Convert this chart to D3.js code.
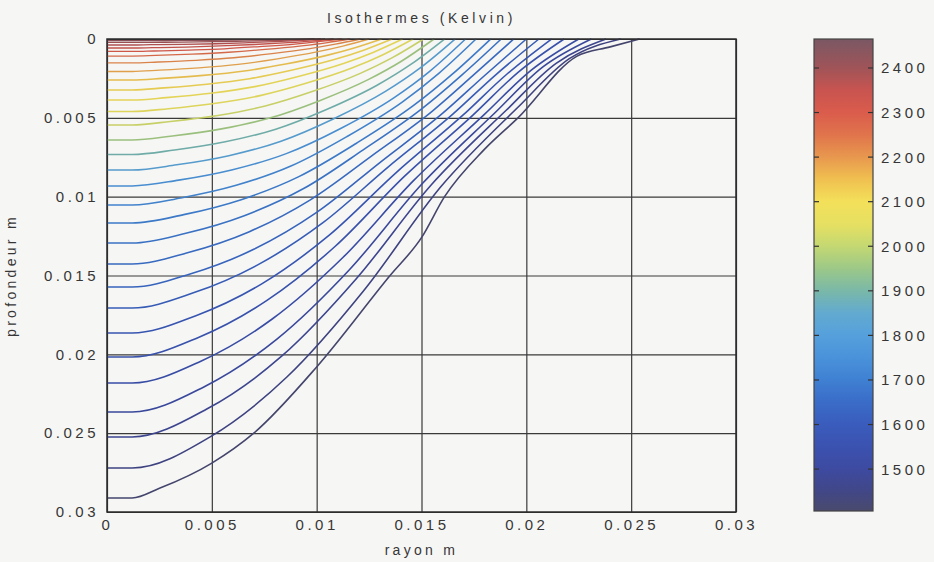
<!DOCTYPE html>
<html>
<head>
<meta charset="utf-8">
<script src="https://cdn.jsdelivr.net/npm/d3@7"></script>
<style>
  body { margin: 0; background: #f6f6f5; }
  text { font-family: "Liberation Sans", Arial, sans-serif; fill: #363636; }
</style>
</head>
<body>
<svg id="chart" width="934" height="562"></svg>
<script>
// axis ticks
const rTicks = [0, 0.005, 0.01, 0.015, 0.02, 0.025, 0.03];
const zTicks = [0, 0.005, 0.01, 0.015, 0.02, 0.025, 0.03];
const cbTicks = [1500, 1600, 1700, 1800, 1900, 2000, 2100, 2200, 2300, 2400];

const cbValues = [1406, 1450, 1500, 1550, 1600, 1650, 1700, 1750, 1800, 1850, 1900, 1950, 2000, 2050, 2100, 2150, 2200, 2250, 2300, 2350, 2400, 2465];
const cbColors = ["#4a4a6c", "#414787", "#3d4aa0", "#3b52b0", "#3a5cbc", "#3a6cc8", "#3f80d2", "#4a92da", "#55a0dc", "#62aad0",
                  "#7ab8a8", "#9cc888", "#c4d872", "#e6e062", "#f3e05a", "#f0c050", "#e8984e", "#e0744c", "#da5c4c", "#c85450",
                  "#a05458", "#7a5864"];

// isotherm levels, shallowest first
const levels = [2430, 2400, 2370, 2340, 2300, 2260, 2220, 2180, 2140, 2115, 2090, 2060, 2020, 1960, 1890,
                1820, 1760, 1725, 1700, 1680, 1660, 1640, 1615, 1590, 1565, 1540, 1510, 1480, 1450, 1415];

// each isotherm as [rayon, profondeur] points (m)
const isotherms = [
  [[0,0.0001],[0.0012,0.0001],[0.00198,0.0001],[0.00347,0.00009],[0.00495,0.00008],[0.00644,0.00006],[0.00792,0.00004],[0.00891,0.00002],[0.0099,0]],
  [[0,0.00022],[0.0012,0.00022],[0.00204,0.00021],[0.00357,0.0002],[0.0051,0.00017],[0.00663,0.00013],[0.00816,0.00009],[0.00918,0.00005],[0.0102,0]],
  [[0,0.00038],[0.0012,0.00038],[0.00208,0.00036],[0.00364,0.00034],[0.0052,0.0003],[0.00676,0.00023],[0.00832,0.00015],[0.00936,0.00008],[0.0104,0]],
  [[0,0.00057],[0.0012,0.00057],[0.00216,0.00055],[0.00378,0.00051],[0.0054,0.00044],[0.00702,0.00035],[0.00864,0.00023],[0.00972,0.00013],[0.0108,0]],
  [[0,0.00079],[0.0012,0.00079],[0.00224,0.00076],[0.00392,0.0007],[0.0056,0.00062],[0.00728,0.00048],[0.00896,0.00032],[0.01008,0.00017],[0.0112,0]],
  [[0,0.00108],[0.0012,0.00108],[0.00232,0.00104],[0.00406,0.00096],[0.0058,0.00084],[0.00754,0.00066],[0.00928,0.00043],[0.01044,0.00024],[0.0116,0]],
  [[0,0.00152],[0.0012,0.00152],[0.00242,0.00146],[0.00424,0.00135],[0.00605,0.00119],[0.00787,0.00093],[0.00968,0.00061],[0.01089,0.00033],[0.0121,0]],
  [[0,0.00206],[0.0012,0.00206],[0.0025,0.00198],[0.00438,0.00183],[0.00625,0.00161],[0.00813,0.00126],[0.01,0.00082],[0.01125,0.00045],[0.0125,0]],
  [[0,0.0026],[0.0012,0.0026],[0.00262,0.0025],[0.00459,0.00231],[0.00655,0.00203],[0.00852,0.00159],[0.01048,0.00104],[0.01179,0.00057],[0.0131,0]],
  [[0,0.00323],[0.0012,0.00323],[0.00272,0.0031],[0.00476,0.00287],[0.0068,0.00252],[0.00884,0.00197],[0.01088,0.00129],[0.01224,0.00071],[0.0136,0]],
  [[0,0.00387],[0.0012,0.00387],[0.00282,0.00372],[0.00494,0.00344],[0.00705,0.00302],[0.00917,0.00236],[0.01128,0.00155],[0.01269,0.00085],[0.0141,0]],
  [[0,0.0046],[0.0012,0.0046],[0.00292,0.00442],[0.00511,0.00409],[0.0073,0.00359],[0.00949,0.00281],[0.01168,0.00184],[0.01314,0.00101],[0.0146,0]],
  [[0,0.00545],[0.0012,0.00545],[0.00302,0.00523],[0.00529,0.00485],[0.00755,0.00425],[0.00982,0.00332],[0.01208,0.00218],[0.01359,0.0012],[0.0151,0]],
  [[0,0.00641],[0.0012,0.00641],[0.00312,0.00615],[0.00546,0.0057],[0.0078,0.005],[0.01014,0.00391],[0.01248,0.00256],[0.01404,0.00141],[0.0156,0]],
  [[0,0.00733],[0.0012,0.00733],[0.00322,0.00704],[0.00564,0.00652],[0.00805,0.00572],[0.01047,0.00447],[0.01288,0.00293],[0.01449,0.00161],[0.0161,0]],
  [[0,0.00831],[0.0012,0.00831],[0.00332,0.00798],[0.00581,0.0074],[0.0083,0.00648],[0.01079,0.00507],[0.01328,0.00332],[0.01494,0.00183],[0.0166,0]],
  [[0,0.00932],[0.0012,0.00932],[0.00342,0.00895],[0.00599,0.00829],[0.00855,0.00727],[0.01112,0.00569],[0.01368,0.00373],[0.01539,0.00205],[0.0171,0]],
  [[0,0.01053],[0.0012,0.01053],[0.00352,0.01008],[0.00616,0.00928],[0.0088,0.00804],[0.01144,0.00619],[0.01408,0.004],[0.01584,0.00216],[0.0176,0]],
  [[0,0.01167],[0.0012,0.01167],[0.00366,0.01114],[0.0064,0.01019],[0.00915,0.00873],[0.0119,0.00661],[0.01464,0.0042],[0.01647,0.00223],[0.0183,0]],
  [[0,0.01294],[0.0012,0.01294],[0.00376,0.01232],[0.00658,0.01119],[0.0094,0.00947],[0.01222,0.00703],[0.01504,0.0044],[0.01692,0.00229],[0.0188,0]],
  [[0,0.01427],[0.0012,0.01427],[0.00388,0.01354],[0.00679,0.01222],[0.0097,0.0102],[0.01261,0.00743],[0.01552,0.00457],[0.01746,0.00231],[0.0194,0]],
  [[0,0.01573],[0.0012,0.01573],[0.004,0.01489],[0.007,0.01334],[0.01,0.011],[0.013,0.00785],[0.016,0.00472],[0.018,0.00233],[0.02,0]],
  [[0,0.01706],[0.0012,0.01706],[0.00412,0.0161],[0.00721,0.01431],[0.0103,0.01165],[0.01339,0.00814],[0.01648,0.00478],[0.01854,0.00227],[0.0206,0]],
  [[0,0.01865],[0.0012,0.01865],[0.00424,0.01755],[0.00742,0.0155],[0.0106,0.01244],[0.01378,0.00849],[0.01696,0.00485],[0.01908,0.00222],[0.0212,0]],
  [[0,0.02017],[0.0012,0.02017],[0.00436,0.01893],[0.00763,0.01658],[0.0109,0.01313],[0.01417,0.00873],[0.01744,0.00484],[0.01962,0.0021],[0.0218,0]],
  [[0,0.02182],[0.0012,0.02182],[0.0045,0.02042],[0.00788,0.01776],[0.01125,0.01386],[0.01463,0.00897],[0.018,0.00478],[0.02025,0.00196],[0.0225,0]],
  [[0,0.02366],[0.0012,0.02366],[0.00462,0.02207],[0.00809,0.01905],[0.01155,0.01465],[0.01502,0.0092],[0.01848,0.00471],[0.02079,0.00177],[0.0231,0]],
  [[0,0.02524],[0.0012,0.02524],[0.00476,0.02347],[0.00833,0.02012],[0.0119,0.01519],[0.01547,0.00924],[0.01904,0.00452],[0.02142,0.00154],[0.0238,0]],
  [[0,0.02721],[0.0012,0.02721],[0.0049,0.02525],[0.00858,0.02144],[0.01225,0.01595],[0.01593,0.00936],[0.0196,0.00433],[0.02205,0.00125],[0.0245,0]],
  [[0,0.02911],[0.0012,0.02911],[0.0025,0.0285],[0.005,0.0269],[0.007,0.025],[0.01,0.0208],[0.0135,0.015],[0.015,0.0126],[0.0161,0.01],[0.018,0.007],[0.0196,0.005],[0.0224,0.0011],[0.024,0.0005],[0.0254,0]]
];

const plot = {left: 107, top: 39, width: 629, height: 473};
const bar = {left: 814, top: 39, width: 59, height: 472};

const svg = d3.select("#chart");

let x = d3.scaleLinear().domain([0, 0.03]).range([0, plot.width]);
let y = d3.scaleLinear().domain([0, 0.03]).range([0, plot.height]);
let colour = d3.scaleLinear().domain(cbValues).range(cbColors);

let g = svg.append("g")
    .attr("transform", `translate(${plot.left},${plot.top})`);

// grid + tick labels
let xAxis = g.append("g")
    .attr("transform", `translate(0,${plot.height})`)
    .call(d3.axisBottom(x).tickValues(rTicks).tickSize(-plot.height).tickPadding(7).tickFormat(d => String(d)));
let yAxis = g.append("g")
    .call(d3.axisLeft(y).tickValues(zTicks).tickSize(-plot.width).tickPadding(8).tickFormat(d => String(d)));

[xAxis, yAxis].forEach(a => {
    a.select(".domain").remove();
    a.selectAll("line").attr("stroke", "#3a3a3a").attr("stroke-width", 1.2);
    a.selectAll("text")
      .attr("fill", "#363636")
      .style("font-size", "15px")
      .style("letter-spacing", "3.5px");
});

// isotherms
let line = d3.line()
    .x(d => x(d[0]))
    .y(d => y(d[1]))
    .curve(d3.curveMonotoneX);

g.selectAll(".iso")
    .data(isotherms)
    .enter()
    .append("path")
      .attr("class", "iso")
      .attr("d", line)
      .attr("fill", "none")
      .attr("stroke", (d, i) => d3.color(colour(levels[i])).darker(0.15))
      .attr("stroke-width", (d, i) => i < 8 ? 1.3 : 1.6);

g.append("rect")
    .attr("width", plot.width)
    .attr("height", plot.height)
    .attr("fill", "none")
    .attr("stroke", "#2a2a2a")
    .attr("stroke-width", 1.5);

// titles
svg.append("text")
    .attr("x", plot.left + plot.width / 2)
    .attr("y", 23)
    .style("text-anchor", "middle")
    .style("font-size", "14px")
    .style("letter-spacing", "3.6px")
    .text("Isothermes (Kelvin)");

svg.append("text")
    .attr("x", plot.left + plot.width / 2)
    .attr("y", 555)
    .style("text-anchor", "middle")
    .style("font-size", "14px")
    .style("letter-spacing", "3.3px")
    .text("rayon m");

svg.append("text")
    .attr("transform", `translate(16, ${plot.top + plot.height / 2}) rotate(-90)`)
    .style("text-anchor", "middle")
    .style("font-size", "14px")
    .style("letter-spacing", "3.3px")
    .text("profondeur m");

// colour bar
let cb = d3.scaleLinear().domain([cbValues[0], cbValues[cbValues.length - 1]]).range([bar.height, 0]);

let grad = svg.append("defs").append("linearGradient")
    .attr("id", "cbGrad")
    .attr("x1", 0).attr("y1", 1).attr("x2", 0).attr("y2", 0);
grad.selectAll("stop")
    .data(cbValues)
    .enter()
    .append("stop")
      .attr("offset", d => (d - cbValues[0]) / (cbValues[cbValues.length - 1] - cbValues[0]))
      .attr("stop-color", (d, i) => cbColors[i]);

let cbg = svg.append("g")
    .attr("transform", `translate(${bar.left},${bar.top})`);

cbg.append("rect")
    .attr("width", bar.width)
    .attr("height", bar.height)
    .attr("fill", "url(#cbGrad)")
    .attr("stroke", "#444")
    .attr("stroke-width", 1.2);

cbg.selectAll(".tl")
    .data(cbTicks)
    .enter()
    .append("line")
      .attr("x1", 0).attr("x2", 5)
      .attr("y1", d => cb(d)).attr("y2", d => cb(d))
      .attr("stroke", "#333").attr("stroke-width", 1.2);
cbg.selectAll(".tr")
    .data(cbTicks)
    .enter()
    .append("line")
      .attr("x1", bar.width - 5).attr("x2", bar.width)
      .attr("y1", d => cb(d)).attr("y2", d => cb(d))
      .attr("stroke", "#333").attr("stroke-width", 1.2);

cbg.selectAll(".cbl")
    .data(cbTicks)
    .enter()
    .append("text")
      .attr("x", bar.width + 8)
      .attr("y", d => cb(d))
      .attr("dy", "0.36em")
      .style("font-size", "15px")
      .style("letter-spacing", "3.5px")
      .text(d => d);
</script>
</body>
</html>
